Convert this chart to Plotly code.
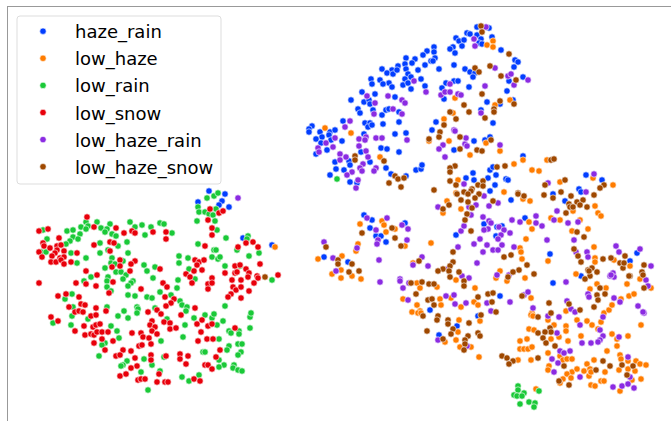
import plotly.graph_objects as go

haze_rain = [(209,191),(225,194),(198,202),(222,201),(219,205),(229,207),(243,238),(272,245),
(477,27),(489,28),(467,33),(470,34),(477,35),(492,37),(456,38),(459,41),(464,40),(481,39),(462,46),(453,47),(450,49),(455,53),(479,43),(482,44),(501,50),
(434,47),(427,51),(434,52),(423,55),(435,58),(431,61),(433,61),(415,59),(406,58),(412,63),(405,64),(425,65),(398,66),(382,69),(392,70),(387,73),(393,74),(397,70),(406,69),(418,70),(408,74),(411,77),(405,79),
(371,79),(380,80),(372,84),(389,83),(383,84),(392,87),(403,85),(408,83),(421,79),(411,89),(425,86),(439,69),(454,65),(465,69),(470,72),(475,73),(473,77),(446,83),(454,81),(458,81),(442,88),(469,87),(444,99),
(362,92),(375,94),(351,100),(364,102),(369,100),(370,104),(395,97),(358,109),(360,113),(373,110),(382,115),(386,110),(389,109),(399,112),(343,121),(399,122),(383,124),(365,123),(370,123),(368,127),(372,125),
(312,126),(309,129),(309,132),(320,132),(330,132),(335,130),(329,135),(322,137),(316,139),(321,143),(331,140),(342,141),(327,150),(316,154),(364,134),(395,134),(406,133),(381,148),(387,149),(399,152),(361,152),(370,162),
(335,162),(349,161),(350,165),(336,169),(344,170),(330,175),(350,182),(357,183),(386,168),(391,174),(406,176),(416,170),(421,169),(422,165),(436,122),(432,130),(474,141),(454,150),(485,140),(490,137),(487,102),(481,110),(493,123),
(507,91),(509,81),(515,60),(518,62),(514,67),(523,77),(513,100),(500,104),(523,156),(473,173),(466,178),(474,180),(490,170),(493,167),(496,175),(488,178),(495,185),(506,179),(508,180),(490,191),
(511,200),(586,175),(602,180),(579,189),(581,192),(553,194),(565,201),(525,218),(484,224),(497,227),(502,226),(496,236),(550,254),(637,253),(630,261),(581,276),
(364,215),(372,220),(370,228),(405,223),(376,236),(381,236),(386,242),(324,257),(348,262),(456,235),(430,310),(500,296),(553,283),(478,316),(457,326),(439,335)]

low_haze = [(275,247),(325,128),(351,133),(493,41),(487,45),(493,47),(455,98),(510,100),(495,105),(453,113),(444,119),(429,141),(449,141),(486,143),(500,151),(470,155),(380,157),(514,164),(523,160),(532,170),(539,171),(458,180),(504,192),(456,193),
(547,160),(593,178),(613,185),(560,182),(523,199),(530,201),(573,211),(595,206),(598,213),(601,216),(551,218),(560,220),(580,220),(529,222),(532,229),(572,231),(588,229),(526,239),(520,248),(521,252),(522,259),(548,261),(594,247),(595,258),(595,262),(614,260),(630,266),(500,271),(496,278),(525,278),(576,274),(640,279),
(360,224),(382,221),(384,225),(395,229),(386,232),(431,243),(405,246),(358,244),(356,251),(318,259),(342,256),(341,270),(332,274),(352,276),(341,278),(361,279),(413,263),(447,201),(443,213),(461,209),
(417,283),(437,287),(420,288),(403,299),(417,305),(440,299),(441,305),(412,312),(420,311),(418,313),(421,313),(451,298),(461,307),(474,302),(478,305),(475,288),(459,320),(480,321),(458,332),(456,340),(445,342),(460,347),(471,347),(479,357),
(507,281),(456,280),(531,298),(532,313),(531,315),(533,316),(566,311),(548,320),(554,325),(566,326),(566,331),(577,320),(587,321),(592,325),(598,329),(601,322),(604,313),(609,310),(612,305),(621,299),(629,296),(634,294),(590,289),(597,284),(606,288),(627,284),(651,288),(641,325),(628,336),(612,334),(617,339),(617,346),(607,351),(581,336),(568,341),(559,337),(551,339),
(529,329),(534,330),(527,339),(520,341),(520,349),(524,349),(528,349),(532,347),(548,353),(560,356),(563,360),(567,359),(572,359),(531,360),(518,360),(549,366),(548,370),(572,372),(577,369),(584,371),(587,364),(594,360),(590,369),(589,376),(591,372),(605,372),(601,381),(604,381),(591,385),(595,386),(619,370),(620,355),(621,359),(628,361),(636,361),(640,364),(646,365),(628,369),(635,371),(632,380),(641,379),(620,391),(567,374),(563,379),(571,378),(560,383),(536,389)]

low_rain = [(86,222),(88,226),(81,227),(97,222),(110,224),(101,228),(107,229),(130,222),(135,227),(142,225),(151,227),(160,223),(164,224),(172,233),(145,235),(112,234),(116,236),(105,232),(86,229),(67,231),(73,230),(80,234),(73,237),(78,239),(70,241),(66,244),(47,239),(43,230),(41,252),(46,252),(71,253),(100,243),(127,242),(118,246),(100,253),(108,250),(128,253),(86,258),(77,263),(112,258),(111,263),(115,264),(121,262),(123,261),(105,268),(116,272),(121,272),(126,275),(144,265),(155,267),(147,271),(153,278),(91,277),(84,281),(108,277),(107,281),(123,279),(133,281),(131,283),(128,286),(107,287),(111,291),(128,295),(135,296),(147,297),(152,298),(160,292),(177,288),(178,280),(171,295),(180,301),(182,305),(187,307),(186,311),(72,294),(65,299),(73,307),(72,316),(53,323),(88,319),(71,325),(107,307),(124,311),(118,316),(128,318),(137,307),(138,309),(137,313),(155,308),(167,319),(185,325),(183,337),(111,326),(117,331),(119,338),(105,343),(102,345),(99,356),(161,341),(144,359),(164,357),(152,365),(127,361),(123,365),(121,366),(141,372),(160,371),(148,390),(182,377),(189,381),(199,375),(194,318),(205,315),(212,318),(214,314),(223,321),(217,325),(203,352),(205,352),(219,339),(229,331),(231,333),(239,331),(239,334),(250,328),(250,317),(251,313),(225,306),(229,346),(227,350),(238,344),(242,344),(241,352),(238,355),(219,360),(224,365),(219,367),(234,365),(233,368),(238,370),(242,371),(272,280),(225,266),(179,256),(179,263),(188,258),(189,269),(195,279),(198,244),(214,250),(216,250),(212,257),(218,259),(220,257),(207,198),(214,196),(218,193),(198,207),(199,212),(205,212),(209,214),(213,215),(216,209),(197,221),(215,221),(217,230),(226,238),(248,236),(247,239),(237,250),(259,253),(249,256),(240,266),
(518,386),(518,390),(524,393),(514,395),(517,396),(522,396),(520,404),(529,402),(535,403),(534,407),(539,391),(337,179)]

low_snow = [(87,217),(48,229),(39,231),(94,227),(116,228),(124,233),(132,231),(135,233),(153,232),(166,232),(166,239),(59,238),(43,243),(44,246),(50,248),(57,246),(61,245),(57,250),(64,251),(39,252),(55,253),(77,253),(42,257),(52,256),(60,258),(64,257),(51,262),(56,262),(61,260),(64,264),(71,262),(94,245),(110,242),(114,243),(110,251),(120,260),(135,261),(131,264),(130,271),(112,267),(120,266),(160,269),(86,271),(97,275),(39,283),(76,283),(86,284),(96,286),(113,282),(109,293),(141,289),(163,283),(167,287),(58,296),(66,294),(79,297),(165,297),(174,299),(171,303),(166,306),(69,307),(81,304),(85,305),(75,312),(79,311),(83,312),(96,308),(106,311),(91,316),(96,315),(51,317),(58,321),(84,326),(93,327),(96,325),(100,324),(75,331),(85,335),(91,334),(94,335),(97,332),(102,332),(108,332),(102,339),(94,343),(113,341),(105,350),(132,333),(141,333),(143,337),(149,338),(139,346),(142,345),(151,344),(148,312),(157,310),(161,314),(152,321),(150,325),(155,327),(152,331),(157,334),(164,322),(170,323),(170,329),(176,328),(123,350),(116,356),(120,355),(131,351),(135,358),(137,366),(131,368),(120,376),(126,374),(151,355),(151,360),(166,356),(180,354),(180,359),(188,356),(186,364),(159,374),(157,382),(165,382),(168,382),(138,380),(141,379),(145,379),(194,379),(200,381),(205,365),(208,365),(212,369),(216,357),(220,350),(198,341),(207,339),(213,339),(201,332),(208,326),(212,324),(197,324),(202,320),(235,328),(181,315),(195,308),(205,246),(212,228),(212,235),(208,220),(210,209),(219,213),(223,211),(246,243),(253,242),(258,247),(238,247),(260,264),(195,260),(199,262),(204,260),(197,265),(202,270),(194,271),(186,274),(190,277),(192,283),(212,278),(208,284),(212,283),(208,289),(225,273),(235,266),(235,273),(240,265),(237,272),(232,280),(241,280),(246,269),(249,273),(248,277),(257,276),(258,278),(254,283),(233,287),(236,290),(241,287),(249,291),(231,294),(228,297),(241,298),(278,275)]

low_haze_rain = [(238,198),(486,27),(474,39),(475,46),(495,68),(508,76),(511,74),(528,80),(514,85),(485,86),(450,84),(441,95),(445,92),(450,92),(458,94),(461,95),(414,81),(426,92),(388,96),(402,100),(405,103),(375,103),(367,96),(393,109),(402,114),(374,114),(481,113),(350,121),(345,127),(454,130),(455,131),(335,138),(359,139),(366,137),(365,140),(376,138),(382,138),(407,140),(326,143),(318,148),(333,147),(319,152),(359,146),(366,151),(368,157),(340,154),(346,157),(340,160),(363,164),(360,168),(362,171),(376,168),(374,171),(352,172),(347,175),(358,180),(356,188),(443,145),(439,149),(465,144),(467,146),(466,138),(445,157),(500,145),(464,184),
(367,218),(387,218),(402,225),(408,229),(376,230),(378,240),(377,244),(407,240),(324,242),(357,248),(333,258),(336,271),(379,260),(422,257),(413,265),(428,266),(448,269),(477,263),(458,247),(474,244),(480,239),(461,231),(464,226),(471,215),(438,207),(469,207),(476,205),(462,276),(469,278),(400,279),
(484,196),(498,203),(489,206),(594,174),(548,183),(586,192),(557,211),(554,220),(568,223),(578,222),(536,216),(536,223),(542,226),(520,222),(512,220),(483,217),(489,221),(491,223),(488,229),(484,230),(499,227),(504,230),(510,233),(501,235),(498,239),(487,245),(502,245),(493,250),(498,250),(483,252),(514,247),(547,240),(574,240),(616,246),(619,252),(640,249),(587,252),(576,252),(588,257),(651,266),(613,273),(614,277),(610,276),(497,275),(509,275),
(400,281),(403,288),(408,300),(380,282),(409,283),(446,296),(454,295),(455,304),(466,303),(487,303),(491,311),(524,295),(528,292),(510,302),(533,308),(548,316),(559,317),(567,301),(571,309),(575,312),(603,317),(580,325),(600,330),(603,336),(600,340),(598,342),(591,343),(582,343),(619,337),(557,333),(570,351),(560,351),(564,353),(552,359),(558,363),(554,372),(580,377),(613,387),(622,386),(628,384),(634,388),(630,377),(628,357),(438,340),(467,346),(566,282),(588,294),(589,297),(614,298),(620,302),(638,306),(644,313),(643,312),(646,280),(648,286),(611,275)]

low_haze_snow = [(265,277),(481,26),(482,32),(509,54),(475,68),(479,72),(490,66),(501,76),(516,80),(482,94),(464,105),(500,101),(514,104),(494,109),(494,112),(469,112),(450,112),(485,118),(456,119),(444,125),(440,132),(439,137),(429,139),(460,137),(460,149),(491,140),(477,150),(482,151),(355,156),(355,160),(384,161),(395,176),(398,179),(404,178),(389,183),(401,187),(455,166),(450,168),(450,172),(497,167),(505,166),(450,181),(456,185),(483,181),(478,185),(483,186),(472,189),(471,191),(464,192),(468,194),(434,190),(457,194),(518,193),
(479,194),(475,198),(468,202),(461,200),(449,205),(443,209),(472,208),(467,214),(465,220),(471,231),(453,252),(453,262),(450,266),(443,269),(438,271),(449,271),(459,272),(450,277),(419,261),(401,246),(395,238),(392,228),(362,233),(326,247),(338,260),(338,264),(352,264),(349,272),(359,271),
(551,160),(554,159),(565,180),(545,185),(604,185),(600,188),(561,192),(544,195),(553,198),(571,196),(594,195),(518,194),(524,196),(493,201),(569,204),(577,202),(583,200),(580,205),(570,207),(573,207),(587,207),(566,213),(577,232),(584,237),(574,249),(578,256),(581,262),(504,257),(511,255),(527,265),(534,274),(519,270),(513,272),(508,277),(588,270),(592,268),(597,272),(590,276),(585,279),(603,259),(611,258),(625,256),(620,263),(623,268),(624,263),(644,265),(642,272),(643,275),(630,276),
(464,281),(464,286),(411,283),(422,282),(429,284),(434,284),(416,294),(428,300),(432,299),(434,305),(423,316),(438,316),(437,320),(448,320),(448,324),(469,323),(453,329),(451,334),(427,331),(443,339),(478,333),(480,336),(468,336),(465,340),(465,344),(464,350),(478,297),(488,294),(493,293),(492,302),(496,312),(481,315),(522,296),(549,303),(569,304),(580,310),(594,307),(551,313),(538,317),(550,328),(551,332),(545,332),(538,333),(543,338),(546,343),(555,346),(502,356),(507,358),(513,361),(509,364),(538,358),(564,366),(559,381),(569,385),(596,370),(603,361),(610,366),(622,365),(633,366),(627,375),(597,295),(605,294),(598,300),(600,288),(629,276),(644,288),(589,271)]

series = [("haze_rain", haze_rain, "#023eff"), ("low_haze", low_haze, "#ff7c00"), ("low_rain", low_rain, "#1ac938"),
          ("low_snow", low_snow, "#e8000b"), ("low_haze_rain", low_haze_rain, "#8b2be2"), ("low_haze_snow", low_haze_snow, "#9f4800")]

fig = go.Figure()
for name, pts, color in series:
    fig.add_trace(go.Scatter(x=[p[0] for p in pts], y=[p[1] for p in pts], mode="markers", name=name, legendgroup=name,
                             marker=dict(size=6.4, color=color, line=dict(color="white", width=0.6))))

# rounded legend frame, as the library's legend box has square corners
fig.add_shape(type="path", xref="x", yref="y", layer="above",
              path="M 20 16 L 218 16 Q 221 16 221 19 L 221 181 Q 221 184 218 184 L 20 184 Q 17 184 17 181 L 17 19 Q 17 16 20 16 Z",
              fillcolor="rgba(255,255,255,0.8)", line=dict(color="#dddddd", width=1))

fig.update_layout(
    width=671, height=421, margin=dict(l=8, r=0, t=7, b=0),
    paper_bgcolor="white", plot_bgcolor="white",
    font=dict(family="DejaVu Sans", color="#000000"),
    xaxis=dict(range=[8, 671], side="top", showline=True, linecolor="#999999", linewidth=1,
               showgrid=False, zeroline=False, showticklabels=False, ticks=""),
    yaxis=dict(range=[421, 7], showline=True, linecolor="#999999", linewidth=1,
               showgrid=False, zeroline=False, showticklabels=False, ticks=""),
    legend=dict(x=3/663, y=1-6/414, xanchor="left", yanchor="top", font=dict(size=18),
                borderwidth=0, bgcolor="rgba(0,0,0,0)",
                itemwidth=54, traceorder="grouped", tracegroupgap=0.7),
)
fig.write_html("out.html", config=dict(displayModeBar=False),
               post_script="document.body.style.margin='0';document.documentElement.style.overflow='hidden';")
